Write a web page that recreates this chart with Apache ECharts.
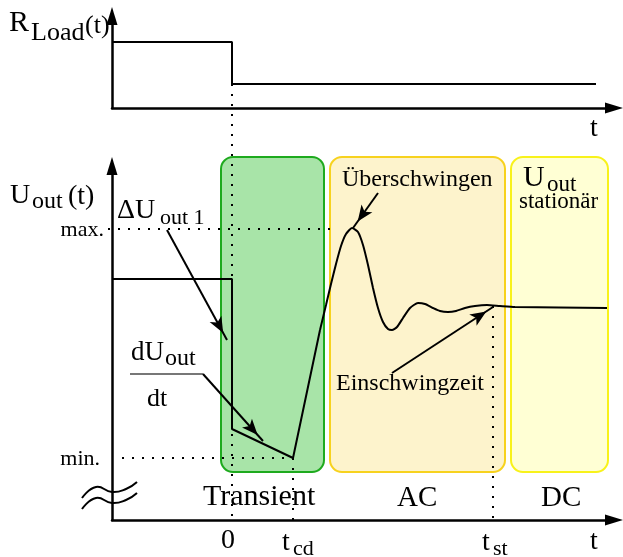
<!DOCTYPE html>
<html>
<head>
<meta charset="utf-8">
<script src="https://cdn.jsdelivr.net/npm/echarts@6/dist/echarts.min.js"></script>
<style>
  html, body { margin: 0; padding: 0; background: #fff; }
  #chart { width: 623px; height: 557px; }
</style>
</head>
<body>
<div id="chart"></div>
<script>
// x: time, t = 0 at the load step (arbitrary units), y: arbitrary units
const loadStep = [[-12, 6.6], [0, 6.6], [0, 2.4], [36.4, 2.4]];

const uOutDrop = [[-12, 24.1], [0, 24.1], [0, 9.1], [6.1, 6.2], [8.8, 19.0]];
const uOutSettle = [
  [8.8, 19.0], [9.4, 21.5], [9.9, 23.6], [10.4, 25.6], [10.9, 27.4], [11.4, 28.6],
  [12.0, 29.2], [12.6, 28.8], [13.1, 27.5], [13.6, 25.5], [14.1, 23.2], [14.6, 21.2],
  [15.1, 19.8], [15.6, 19.1], [16.0, 19.0], [16.5, 19.3], [17.1, 20.2], [17.8, 21.2],
  [18.6, 21.7], [19.3, 21.6], [20.1, 21.2], [20.8, 20.9], [21.6, 20.8], [22.4, 20.9],
  [23.3, 21.2], [24.3, 21.4], [25.5, 21.5], [26.8, 21.4], [28.3, 21.3], [37.5, 21.2]
];

const uMax = 29.1;
const uMin = 6.2;
const tCd = 6.1;
const tSt = 26.1;
const uSt = 21.4;

const phases = ['Transient', 'AC', 'DC'];
const phaseStart = [-1.1, 9.8, 27.9];
const phaseEnd = [9.2, 27.3, 37.6];
const phaseTop = 36.3;
const phaseBottom = 4.8;
const phaseFill = ['#a8e4a8', '#fdf3cc', '#ffffd4'];
const phaseBorder = ['#1eaa1e', '#f7d21e', '#f8f21a'];

// axis break mark
const breakUpper = [[-15, 2.2], [-13.6, 3.3], [-12, 2.8], [-10.6, 3.1], [-9.5, 3.8]];
const breakLower = [[-15, 1.1], [-13.6, 2.2], [-12, 1.7], [-10.6, 2.0], [-9.5, 2.7]];

const FONT = '"Liberation Serif", "Times New Roman", serif';

function txt(s, x, base, size, align) {
  align = align || 'left';
  return {
    type: 'text', x: x, y: base - 0.33 * size, silent: true, z: 100,
    style: {
      text: s, font: size + 'px ' + FONT, fill: '#000',
      align: align, textAlign: align, verticalAlign: 'middle', textVerticalAlign: 'middle'
    }
  };
}

function axisX(idx) {
  return {
    type: 'value', gridIndex: idx, min: -12, max: 38.2,
    axisLine: { show: true, onZero: false, symbol: ['none', 'triangle'], symbolSize: [11, 18],
      lineStyle: { color: '#000', width: 2.5 } },
    axisTick: { show: false }, axisLabel: { show: false }, splitLine: { show: false }
  };
}
function axisY(idx, max) {
  return {
    type: 'value', gridIndex: idx, min: 0, max: max,
    axisLine: { show: true, onZero: false, symbol: ['none', 'triangle'], symbolSize: [11, 18],
      lineStyle: { color: '#000', width: 2.5 } },
    axisTick: { show: false }, axisLabel: { show: false }, splitLine: { show: false }
  };
}

const solid = { color: '#000', width: 2 };

function plain(data, grid, smooth) {
  return {
    type: 'line', xAxisIndex: grid, yAxisIndex: grid, data: data,
    symbol: 'none', clip: false, silent: true, smooth: smooth || false,
    lineStyle: solid, z: 5
  };
}

// free polyline through data coords, may run outside the plot area
function path(points, dash, smooth) {
  return {
    type: 'custom', xAxisIndex: 1, yAxisIndex: 1, silent: true, clip: false, z: 4,
    data: [0],
    renderItem: function (params, api) {
      return {
        type: 'polyline',
        shape: { points: points.map(p => api.coord(p)), smooth: smooth || 0 },
        style: { stroke: '#000', lineWidth: 2, fill: null, lineDash: dash || null }
      };
    }
  };
}

function arrow(from, to, color) {
  return [
    { coord: from, symbol: 'none' },
    { coord: to, symbol: 'arrow', lineStyle: { color: color || '#000', width: 2 } }
  ];
}

const DOT = [2, 8];
const chart = echarts.init(document.getElementById('chart'));

chart.setOption({
  animation: false,
  grid: [
    { left: 112, top: 16, width: 502, height: 92 },
    { left: 112, top: 166, width: 502, height: 354 }
  ],
  xAxis: [axisX(0), axisX(1)],
  yAxis: [axisY(0, 9.2), axisY(1, 35.4)],
  series: [
    {
      type: 'custom', xAxisIndex: 1, yAxisIndex: 1, silent: true, z: 1,
      data: phases.map((p, i) => [phaseStart[i], phaseEnd[i], phaseTop, phaseBottom]),
      renderItem: function (params, api) {
        const a = api.coord([api.value(0), api.value(2)]);
        const b = api.coord([api.value(1), api.value(3)]);
        const i = params.dataIndex;
        return {
          type: 'rect',
          shape: { x: a[0], y: a[1], width: b[0] - a[0], height: b[1] - a[1], r: 12 },
          style: { fill: phaseFill[i], stroke: phaseBorder[i], lineWidth: 2 }
        };
      }
    },
    plain(loadStep, 0),
    path([[0, 43.6], [0, 0]], DOT),
    path([[-12.4, uMax], [9.8, uMax]], DOT),
    path([[-11, uMin], [tCd, uMin]], DOT),
    path([[tCd, uMin], [tCd, 0]], DOT),
    path([[tSt, uSt], [tSt, -0.5]], DOT),
    plain(uOutDrop, 1),
    plain(uOutSettle, 1, 0.2),
    path(breakUpper, null, 0.5),
    path(breakLower, null, 0.5),
    {
      type: 'line', xAxisIndex: 1, yAxisIndex: 1, data: [], z: 6,
      markLine: {
        silent: true, animation: false,
        symbolSize: [10, 16], symbolOffset: [[0, 0], [0, 8]],
        label: { show: false },
        lineStyle: { color: '#000', width: 2, type: 'solid' },
        data: [
          arrow([-6.5, 29.0], [-0.5, 18.0]),
          [{ coord: [-10.2, 14.6], symbol: 'none' },
           { coord: [-2.9, 14.6], symbol: 'none', lineStyle: { color: '#777', width: 2 } }],
          arrow([-2.9, 14.6], [3.1, 7.9]),
          arrow([14.6, 32.7], [12.1, 29.2]),
          arrow([16.0, 14.7], [26.1, 21.3])
        ]
      }
    }
  ],
  graphic: [
    txt('R', 9, 33, 30), txt('Load', 31, 42, 26), txt('(t)', 85, 35, 26),
    txt('t', 590, 138, 28),
    txt('U', 10, 205, 28), txt('out', 32, 210, 24), txt('(t)', 68, 206, 28),
    txt('\u0394U', 117, 220, 28), txt('out 1', 160, 225, 22),
    txt('max.', 104, 237, 22, 'right'), txt('min.', 100, 466, 22, 'right'),
    txt('dU', 131, 362, 27), txt('out', 165, 367, 24), txt('dt', 147, 408, 26),
    txt('\u00dcberschwingen', 342, 188, 24),
    txt('U', 523, 188, 30), txt('out', 547, 193, 23), txt('station\u00e4r', 519, 210, 23),
    txt('Einschwingzeit', 336, 392, 24),
    txt(phases[0], 203, 507, 30), txt(phases[1], 397, 508, 29), txt(phases[2], 541, 508, 29),
    txt('0', 221, 550, 28),
    txt('t', 282, 552, 28), txt('cd', 293, 556, 22),
    txt('t', 482, 552, 28), txt('st', 493, 556, 22),
    txt('t', 590, 551, 28)
  ]
});
</script>
</body>
</html>
